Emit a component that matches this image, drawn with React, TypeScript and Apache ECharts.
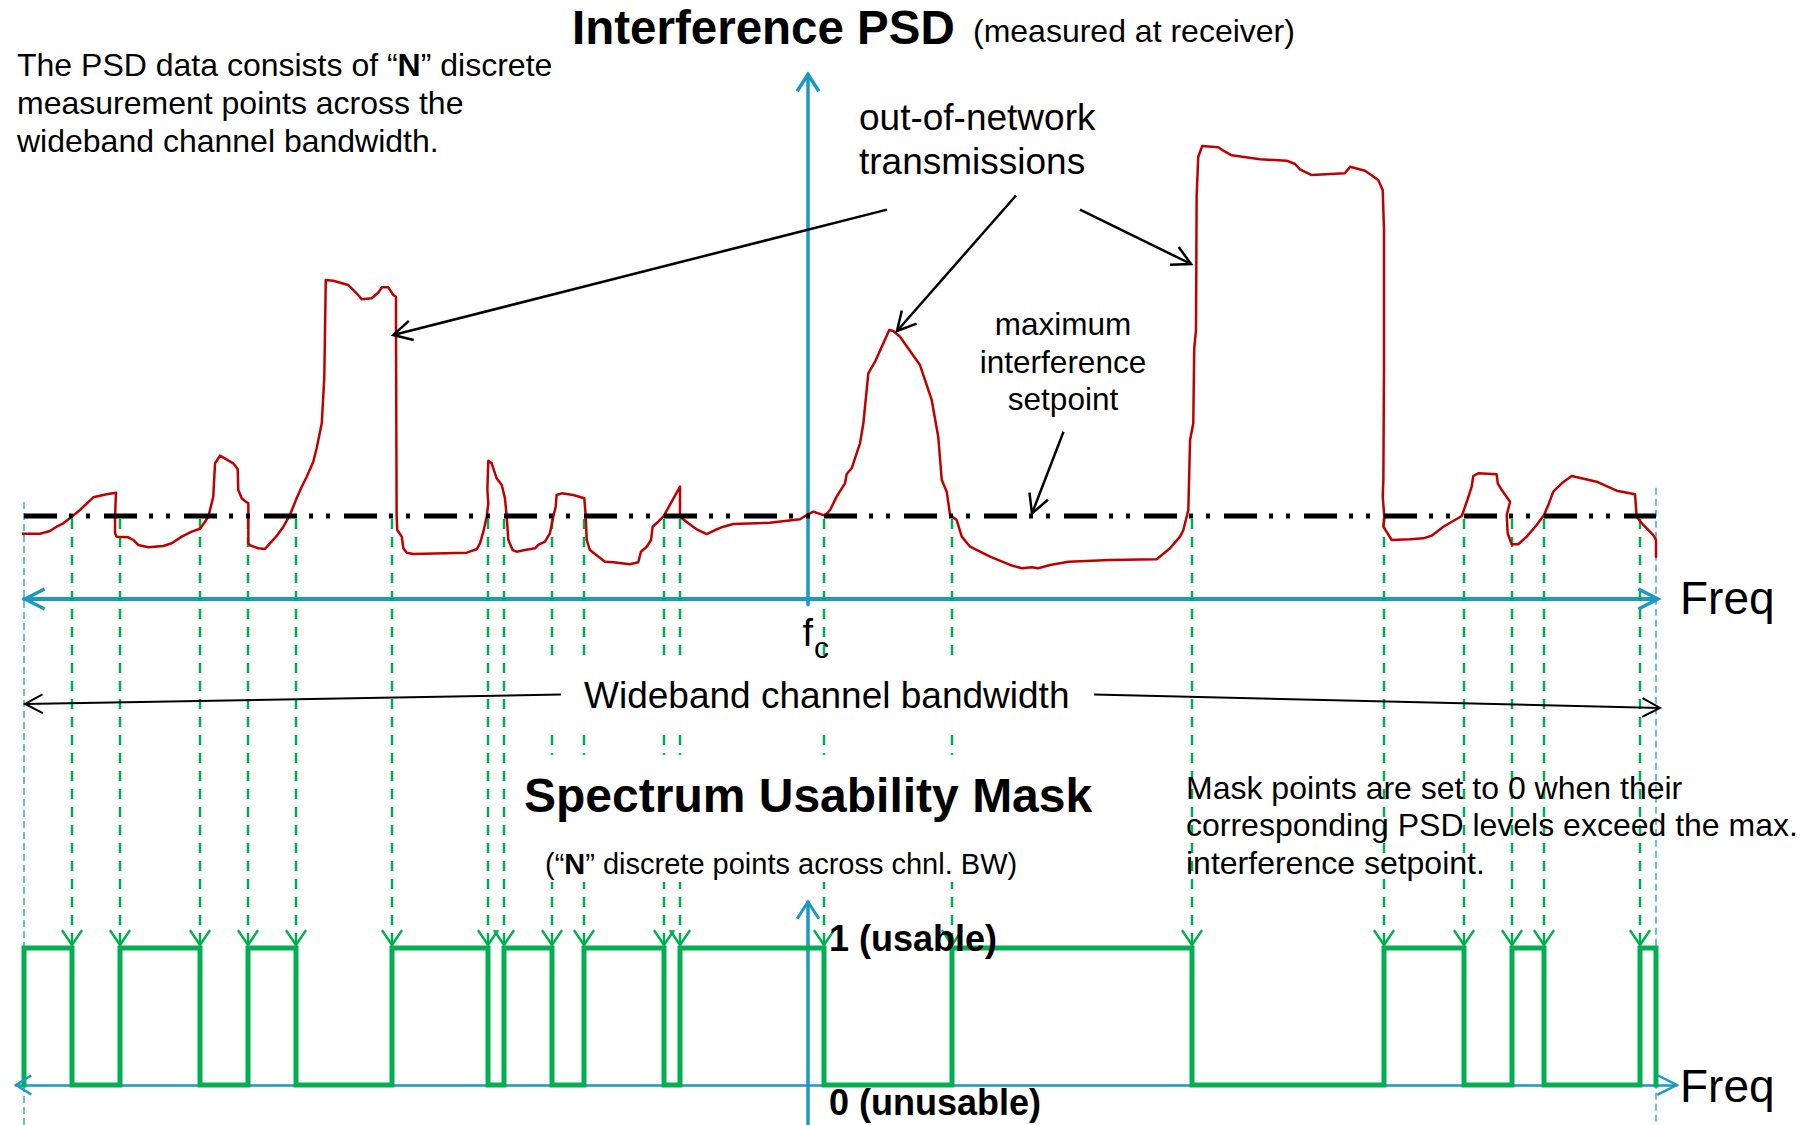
import React, { useEffect, useRef } from 'react';
import * as echarts from 'echarts';

// ---------------- data ----------------
// frequency in bins relative to the centre frequency fc (bin 0)
const bandStartBin = -49;
const bandEndBin = 53;
const setpointLevel = 10; // maximum interference setpoint (dB, arbitrary reference)

// measured interference PSD (frequency bin, level dB)
const psdFreq: number[] = [
  -49.63, -49.25, -48.0, -47.38, -46.96, -46.54, -46.02, -45.5, -44.67, -43.83,
  -43.25, -43.31, -43.31, -43.21, -42.48, -42.17, -41.86, -41.23, -40.29, -39.77,
  -39.14, -38.52, -38.0, -37.69, -37.48, -37.27, -37.17, -37.06, -36.75, -35.92,
  -35.64, -35.61, -35.39, -35.13, -34.98, -34.98, -34.88, -34.36, -33.94, -33.63,
  -33.21, -32.79, -32.38, -31.96, -31.64, -31.33, -30.92, -30.71, -30.39, -30.23,
  -30.14, -29.67, -28.73, -28.21, -27.89, -27.27, -26.86, -26.64, -26.23, -25.92,
  -25.75, -25.75, -25.71, -25.67, -25.39, -25.29, -25.08, -24.67, -21.33, -20.71,
  -20.5, -20.29, -20.08, -19.98, -20.04, -19.98, -19.77, -19.46, -19.14, -18.94,
  -18.83, -18.73, -18.46, -18.21, -17.69, -17.06, -16.86, -16.44, -16.13, -15.92,
  -15.77, -15.71, -15.39, -14.67, -13.98, -13.89, -13.83, -13.63, -12.69, -12.17,
  -11.13, -10.61, -10.44, -10.08, -9.81, -9.71, -9.36, -9.04, -8.0, -8.0,
  -7.48, -6.96, -6.33, -5.81, -5.29, -4.67, -2.38, -0.5, -0.08, 0.33,
  1.06, 1.38, 1.79, 2.31, 2.42, 2.73, 3.04, 3.25, 3.46, 3.77,
  4.19, 4.71, 5.08, 5.33, 5.75, 6.48, 7.0, 7.73, 8.14, 8.36,
  8.67, 8.88, 9.29, 9.61, 10.13, 11.38, 12.63, 13.36, 13.98, 14.39,
  15.13, 16.27, 18.88, 21.79, 22.63, 23.25, 23.46, 23.77, 23.88, 24.08,
  24.14, 24.25, 24.29, 24.39, 24.64, 25.64, 25.96, 26.48, 28.25, 29.92,
  30.44, 30.75, 31.48, 33.56, 33.88, 34.81, 35.13, 35.64, 35.92, 36.0,
  36.0, 35.96, 35.92, 36.02, 35.96, 36.48, 37.63, 38.46, 38.98, 39.71,
  40.86, 41.21, 41.48, 41.58, 41.89, 43.04, 43.11, 43.36, 43.88, 43.67,
  43.73, 43.98, 44.39, 44.92, 45.54, 46.0, 46.27, 46.58, 47.11, 47.73,
  49.29, 50.54, 51.69, 51.79, 52.21, 52.83, 53.0, 53.0,
];
const psdLevel: number[] = [
  8.0, 7.87, 7.87, 8.19, 8.71, 9.12, 9.92, 10.72, 12.25, 12.61,
  12.81, 9.92, 7.92, 7.51, 7.43, 7.11, 6.51, 6.23, 6.39, 6.71,
  7.51, 8.11, 8.47, 9.31, 9.92, 11.53, 12.33, 16.35, 17.27, 16.35,
  15.63, 13.13, 12.13, 11.72, 11.53, 6.71, 6.47, 6.11, 6.02, 6.71,
  7.59, 8.71, 10.12, 12.13, 13.53, 14.73, 16.54, 18.16, 21.17, 26.78,
  38.43, 38.35, 37.83, 36.83, 36.11, 36.23, 36.9, 37.55, 37.55, 36.63,
  36.42, 32.01, 9.92, 8.31, 7.51, 6.11, 5.58, 5.42, 5.58, 5.99,
  6.71, 8.11, 9.92, 11.53, 13.13, 16.66, 16.35, 14.54, 13.73, 12.13,
  9.92, 7.11, 5.9, 5.7, 5.9, 6.11, 6.51, 6.9, 7.92, 9.92,
  11.12, 12.53, 12.73, 12.53, 12.13, 9.92, 7.11, 5.9, 4.49, 4.42,
  4.18, 4.42, 5.7, 6.3, 7.11, 8.71, 9.31, 9.92, 13.53, 9.92,
  9.12, 8.4, 7.83, 8.31, 8.71, 9.04, 9.19, 9.6, 10.12, 10.52,
  10.04, 10.72, 12.33, 13.94, 15.06, 15.75, 17.55, 18.76, 21.17, 27.19,
  28.59, 30.81, 32.41, 32.29, 31.6, 29.6, 28.19, 23.98, 19.55, 14.34,
  12.93, 10.12, 9.52, 7.51, 6.3, 5.1, 4.1, 3.7, 3.82, 3.7,
  4.1, 4.49, 4.7, 4.78, 6.11, 7.51, 8.31, 10.72, 19.16, 21.17,
  30.2, 32.41, 48.47, 53.29, 54.58, 54.42, 54.01, 53.46, 52.98, 52.81,
  52.41, 51.77, 51.08, 51.29, 52.08, 51.6, 51.17, 50.48, 49.28, 44.46,
  28.4, 14.34, 12.33, 9.92, 8.71, 7.11, 7.19, 7.31, 7.63, 8.71,
  10.0, 11.93, 13.53, 14.82, 15.14, 15.02, 13.94, 13.13, 11.72, 10.12,
  7.92, 6.59, 6.59, 7.51, 8.92, 10.12, 11.33, 12.93, 13.94, 14.82,
  14.13, 13.05, 12.61, 9.92, 8.92, 7.71, 7.11, 5.1,
];

// bins where the spectrum usability mask toggles (starts usable = 1 at band start)
const maskSwitchBins: number[] = [
  -46, -43, -38, -35, -32, -26, -20, -19, -16, -14, -9, -8, 1, 9, 24, 36, 41, 44, 46, 52,
];
const maskStartLevel = 1;

// ---------------- layout / style ----------------
const W = 1806;
const H = 1125;
const FONT = "'Liberation Sans', Arial, Helvetica, sans-serif";
const BLUE = '#1B98C3';
const LIGHTBLUE = '#3AA8D4';
const RED = '#C00000';
const GREEN = '#00B050';

const PSD_Y_MIN = -0.7;
const PSD_Y_MAX = 63.2;
const PSD_PX_PER_DB = 8.3;
const PSD_AXIS_PX = 599;
const MASK_Y_MIN = -0.292;
const MASK_Y_MAX = 1.3358;
const MASK_X_MIN = -49.5;
const MASK_X_MAX = 54.3;

function buildPsd(): number[][] {
  const n = Math.min(psdFreq.length, psdLevel.length);
  const out: number[][] = [];
  for (let i = 0; i < n; i++) out.push([psdFreq[i], psdLevel[i]]);
  return out;
}

function buildMask(): number[][] {
  const pts: number[][] = [
    [bandStartBin, 1 - maskStartLevel],
    [bandStartBin, maskStartLevel],
  ];
  let level = maskStartLevel;
  for (const b of maskSwitchBins) {
    level = 1 - level;
    pts.push([b, level]);
  }
  pts.push([bandEndBin, 0]);
  return pts;
}

function head(tx: number, ty: number, sx: number, sy: number, len: number, angDeg: number) {
  const dx = sx - tx;
  const dy = sy - ty;
  const d = Math.hypot(dx, dy) || 1;
  const ux = dx / d;
  const uy = dy / d;
  const a = (angDeg * Math.PI) / 180;
  const r = (c: number, s: number) => [tx + len * (ux * c - uy * s), ty + len * (ux * s + uy * c)];
  return [r(Math.cos(a), Math.sin(a)), [tx, ty], r(Math.cos(-a), Math.sin(-a))];
}

function arrowEls(sx: number, sy: number, tx: number, ty: number, color: string, width: number, len: number, ang: number, z: number, dash?: number[]) {
  return [
    {
      type: 'line',
      z,
      shape: { x1: sx, y1: sy, x2: tx, y2: ty },
      style: { stroke: color, lineWidth: width, lineDash: dash || null },
    },
    {
      type: 'polyline',
      z,
      shape: { points: head(tx, ty, sx, sy, len, ang) },
      style: { stroke: color, lineWidth: width, fill: null, lineJoin: 'miter' },
    },
  ];
}

function txt(x: number, y: number, text: string, size: number, extra: any = {}) {
  const { weight, align, vAlign, lineHeight, rich, z } = extra;
  return {
    type: 'text',
    x,
    y,
    z: z ?? 20,
    style: {
      text,
      fontSize: size,
      fontFamily: FONT,
      fontWeight: weight || 'normal',
      fill: '#000',
      align: align || 'left',
      verticalAlign: vAlign || 'middle',
      lineHeight: lineHeight || undefined,
      rich: rich || undefined,
    },
  };
}

export default function App() {
  const ref = useRef<HTMLDivElement>(null);

  useEffect(() => {
    if (!ref.current) return;
    const chart = echarts.init(ref.current, null, { renderer: 'svg', width: W, height: H });

    const psdTop = PSD_AXIS_PX - PSD_Y_MAX * PSD_PX_PER_DB;
    const psdHeight = (PSD_Y_MAX - PSD_Y_MIN) * PSD_PX_PER_DB;
    const hideAxis = {
      axisTick: { show: false },
      axisLabel: { show: false },
      splitLine: { show: false },
    };

    chart.setOption({
      animation: false,
      backgroundColor: '#ffffff',
      grid: [
        { left: 24, width: 1632, top: psdTop, height: psdHeight, containLabel: false, outerBoundsMode: 'none' },
        { left: 16, width: (MASK_X_MAX - MASK_X_MIN) * 16, top: 902, height: 223, containLabel: false, outerBoundsMode: 'none' },
      ],
      xAxis: [
        {
          type: 'value', gridIndex: 0, min: bandStartBin, max: bandEndBin,
          axisLine: { show: true, onZero: true, lineStyle: { color: BLUE, width: 4 } },
          ...hideAxis,
        },
        {
          type: 'value', gridIndex: 1, min: MASK_X_MIN, max: MASK_X_MAX,
          axisLine: { show: true, onZero: true, lineStyle: { color: BLUE, width: 2.5 } },
          ...hideAxis,
        },
      ],
      yAxis: [
        {
          type: 'value', gridIndex: 0, min: PSD_Y_MIN, max: PSD_Y_MAX,
          axisLine: { show: true, onZero: true, lineStyle: { color: BLUE, width: 3.5 } },
          ...hideAxis,
        },
        {
          type: 'value', gridIndex: 1, min: MASK_Y_MIN, max: MASK_Y_MAX,
          axisLine: { show: true, onZero: true, lineStyle: { color: BLUE, width: 3.5 } },
          ...hideAxis,
        },
      ],
      series: [
        {
          name: 'Spectrum Usability Mask',
          type: 'line',
          xAxisIndex: 1,
          yAxisIndex: 1,
          step: 'end',
          symbol: 'none',
          clip: false,
          z: 3,
          lineStyle: { color: GREEN, width: 5, join: 'miter', cap: 'square' },
          data: buildMask(),
        },
        {
          name: 'Interference PSD',
          type: 'line',
          xAxisIndex: 0,
          yAxisIndex: 0,
          symbol: 'none',
          clip: false,
          z: 3,
          lineStyle: { color: RED, width: 2.5, join: 'round', cap: 'round' },
          data: buildPsd(),
        },
        {
          name: 'Maximum interference setpoint',
          type: 'line',
          xAxisIndex: 0,
          yAxisIndex: 0,
          symbol: 'none',
          clip: false,
          z: 4,
          lineStyle: { color: '#000', width: 5, type: [33, 12, 4, 13, 4, 14], cap: 'butt' },
          data: [[bandStartBin, setpointLevel], [bandEndBin, setpointLevel]],
        },
      ],
    });

    const toPsd = (x: number, y: number) => chart.convertToPixel({ gridIndex: 0 }, [x, y]) as number[];
    const toMask = (x: number, y: number) => chart.convertToPixel({ gridIndex: 1 }, [x, y]) as number[];

    const els: any[] = [];

    // green dashed projections from setpoint crossings down to the mask
    for (const b of maskSwitchBins) {
      const top = toPsd(b, setpointLevel);
      const tip = toMask(b, 1);
      els.push(...arrowEls(top[0], top[1] + 3, tip[0], tip[1] - 3, GREEN, 2.5, 18, 34, 1, [10, 8]));
    }

    // band edge dashed lines
    const le = toPsd(bandStartBin, 11.7);
    const re = toPsd(bandEndBin, 13.4);
    els.push({ type: 'line', z: 1, shape: { x1: le[0], y1: le[1], x2: le[0], y2: H }, style: { stroke: LIGHTBLUE, lineWidth: 1.5, lineDash: [7, 4] } });
    els.push({ type: 'line', z: 1, shape: { x1: re[0], y1: re[1], x2: re[0], y2: H }, style: { stroke: LIGHTBLUE, lineWidth: 1.5, lineDash: [7, 4] } });

    // axis arrow heads
    const yTop = toPsd(0, PSD_Y_MAX);
    els.push({ type: 'polyline', z: 6, shape: { points: head(yTop[0], yTop[1], yTop[0], yTop[1] + 10, 20, 33) }, style: { stroke: BLUE, lineWidth: 3.5, fill: null } });
    const xl = toPsd(bandStartBin, 0);
    const xr = toPsd(bandEndBin, 0);
    els.push({ type: 'polyline', z: 6, shape: { points: head(xl[0] + 1, xl[1], xl[0] + 10, xl[1], 22, 27) }, style: { stroke: BLUE, lineWidth: 3.5, fill: null } });
    els.push({ type: 'polyline', z: 6, shape: { points: head(xr[0] + 2, xr[1], xr[0] - 10, xr[1], 22, 27) }, style: { stroke: BLUE, lineWidth: 3.5, fill: null } });
    const myTop = toMask(0, MASK_Y_MAX);
    els.push({ type: 'polyline', z: 6, shape: { points: head(myTop[0], myTop[1], myTop[0], myTop[1] + 10, 20, 33) }, style: { stroke: BLUE, lineWidth: 3, fill: null } });
    const mxl = toMask(MASK_X_MIN, 0);
    const mxr = toMask(MASK_X_MAX, 0);
    els.push({ type: 'polyline', z: 6, shape: { points: head(mxl[0], mxl[1], mxl[0] + 10, mxl[1], 18, 32) }, style: { stroke: BLUE, lineWidth: 2.5, fill: null } });
    els.push({ type: 'polyline', z: 6, shape: { points: head(mxr[0], mxr[1], mxr[0] - 10, mxr[1], 22, 27) }, style: { stroke: BLUE, lineWidth: 2.5, fill: null } });

    // white boxes behind mid texts
    els.push({ type: 'rect', z: 8, shape: { x: 540, y: 660, width: 545, height: 67 }, style: { fill: '#fff' } });
    els.push({ type: 'rect', z: 8, shape: { x: 512, y: 755, width: 583, height: 80 }, style: { fill: '#fff' } });
    els.push({ type: 'rect', z: 8, shape: { x: 538, y: 838, width: 495, height: 44 }, style: { fill: '#fff' } });

    // annotation arrows
    els.push(...arrowEls(887, 209.6, 393.3, 335, '#000', 2.5, 21, 28, 12));
    els.push(...arrowEls(1016, 195.5, 897, 331, '#000', 2.5, 21, 28, 12));
    els.push(...arrowEls(1080, 209.7, 1191, 264, '#000', 2.5, 21, 28, 12));
    els.push(...arrowEls(1063.5, 431.7, 1032, 513.5, '#000', 2.5, 21, 28, 12));
    els.push(...arrowEls(561, 694.5, 25, 704, '#000', 2, 20, 28, 12));
    els.push(...arrowEls(1094, 694.5, 1660, 708, '#000', 2, 20, 28, 12));

    // texts
    els.push(txt(572, 27.7, 'Interference PSD', 47.5, { weight: 'bold' }));
    els.push(txt(973, 30.9, '(measured at receiver)', 32));
    els.push(
      txt(17, 46.4, 'The PSD data consists of “{b|N}” discrete\nmeasurement points across the\nwideband channel bandwidth.', 32, {
        vAlign: 'top',
        lineHeight: 38,
        rich: { b: { fontWeight: 'bold', fontSize: 32, fontFamily: FONT, lineHeight: 38, fill: '#000' } },
      })
    );
    els.push(txt(859, 95.2, 'out-of-network\ntransmissions', 37, { vAlign: 'top', lineHeight: 44 }));
    els.push(txt(1063, 305.3, 'maximum\ninterference\nsetpoint', 31.5, { vAlign: 'top', lineHeight: 37.6, align: 'center' }));
    els.push(txt(584, 695, 'Wideband channel bandwidth', 37));
    els.push(txt(802.5, 633, 'f', 38));
    els.push(txt(814, 647.6, 'c', 30));
    els.push(txt(1680, 598, 'Freq', 46));
    els.push(txt(1680, 1086, 'Freq', 46));
    els.push(txt(524, 795.7, 'Spectrum Usability Mask', 48, { weight: 'bold' }));
    els.push(
      txt(545, 864, '(“{b|N}” discrete points across chnl. BW)', 29, {
        rich: { b: { fontWeight: 'bold', fontSize: 29, fontFamily: FONT, fill: '#000' } },
      })
    );
    els.push(txt(829, 938.5, '1 (usable)', 36, { weight: 'bold' }));
    els.push(txt(829, 1102, '0 (unusable)', 36, { weight: 'bold' }));
    els.push(
      txt(1186, 769, 'Mask points are set to 0 when their\ncorresponding PSD levels exceed the max.\ninterference setpoint.', 32, {
        vAlign: 'top',
        lineHeight: 37.6,
      })
    );

    chart.setOption({ graphic: { elements: els } });

    return () => chart.dispose();
  }, []);

  return (
    <div
      ref={ref}
      style={{ position: 'absolute', left: 0, top: 0, width: W, height: H, background: '#fff' }}
    />
  );
}
